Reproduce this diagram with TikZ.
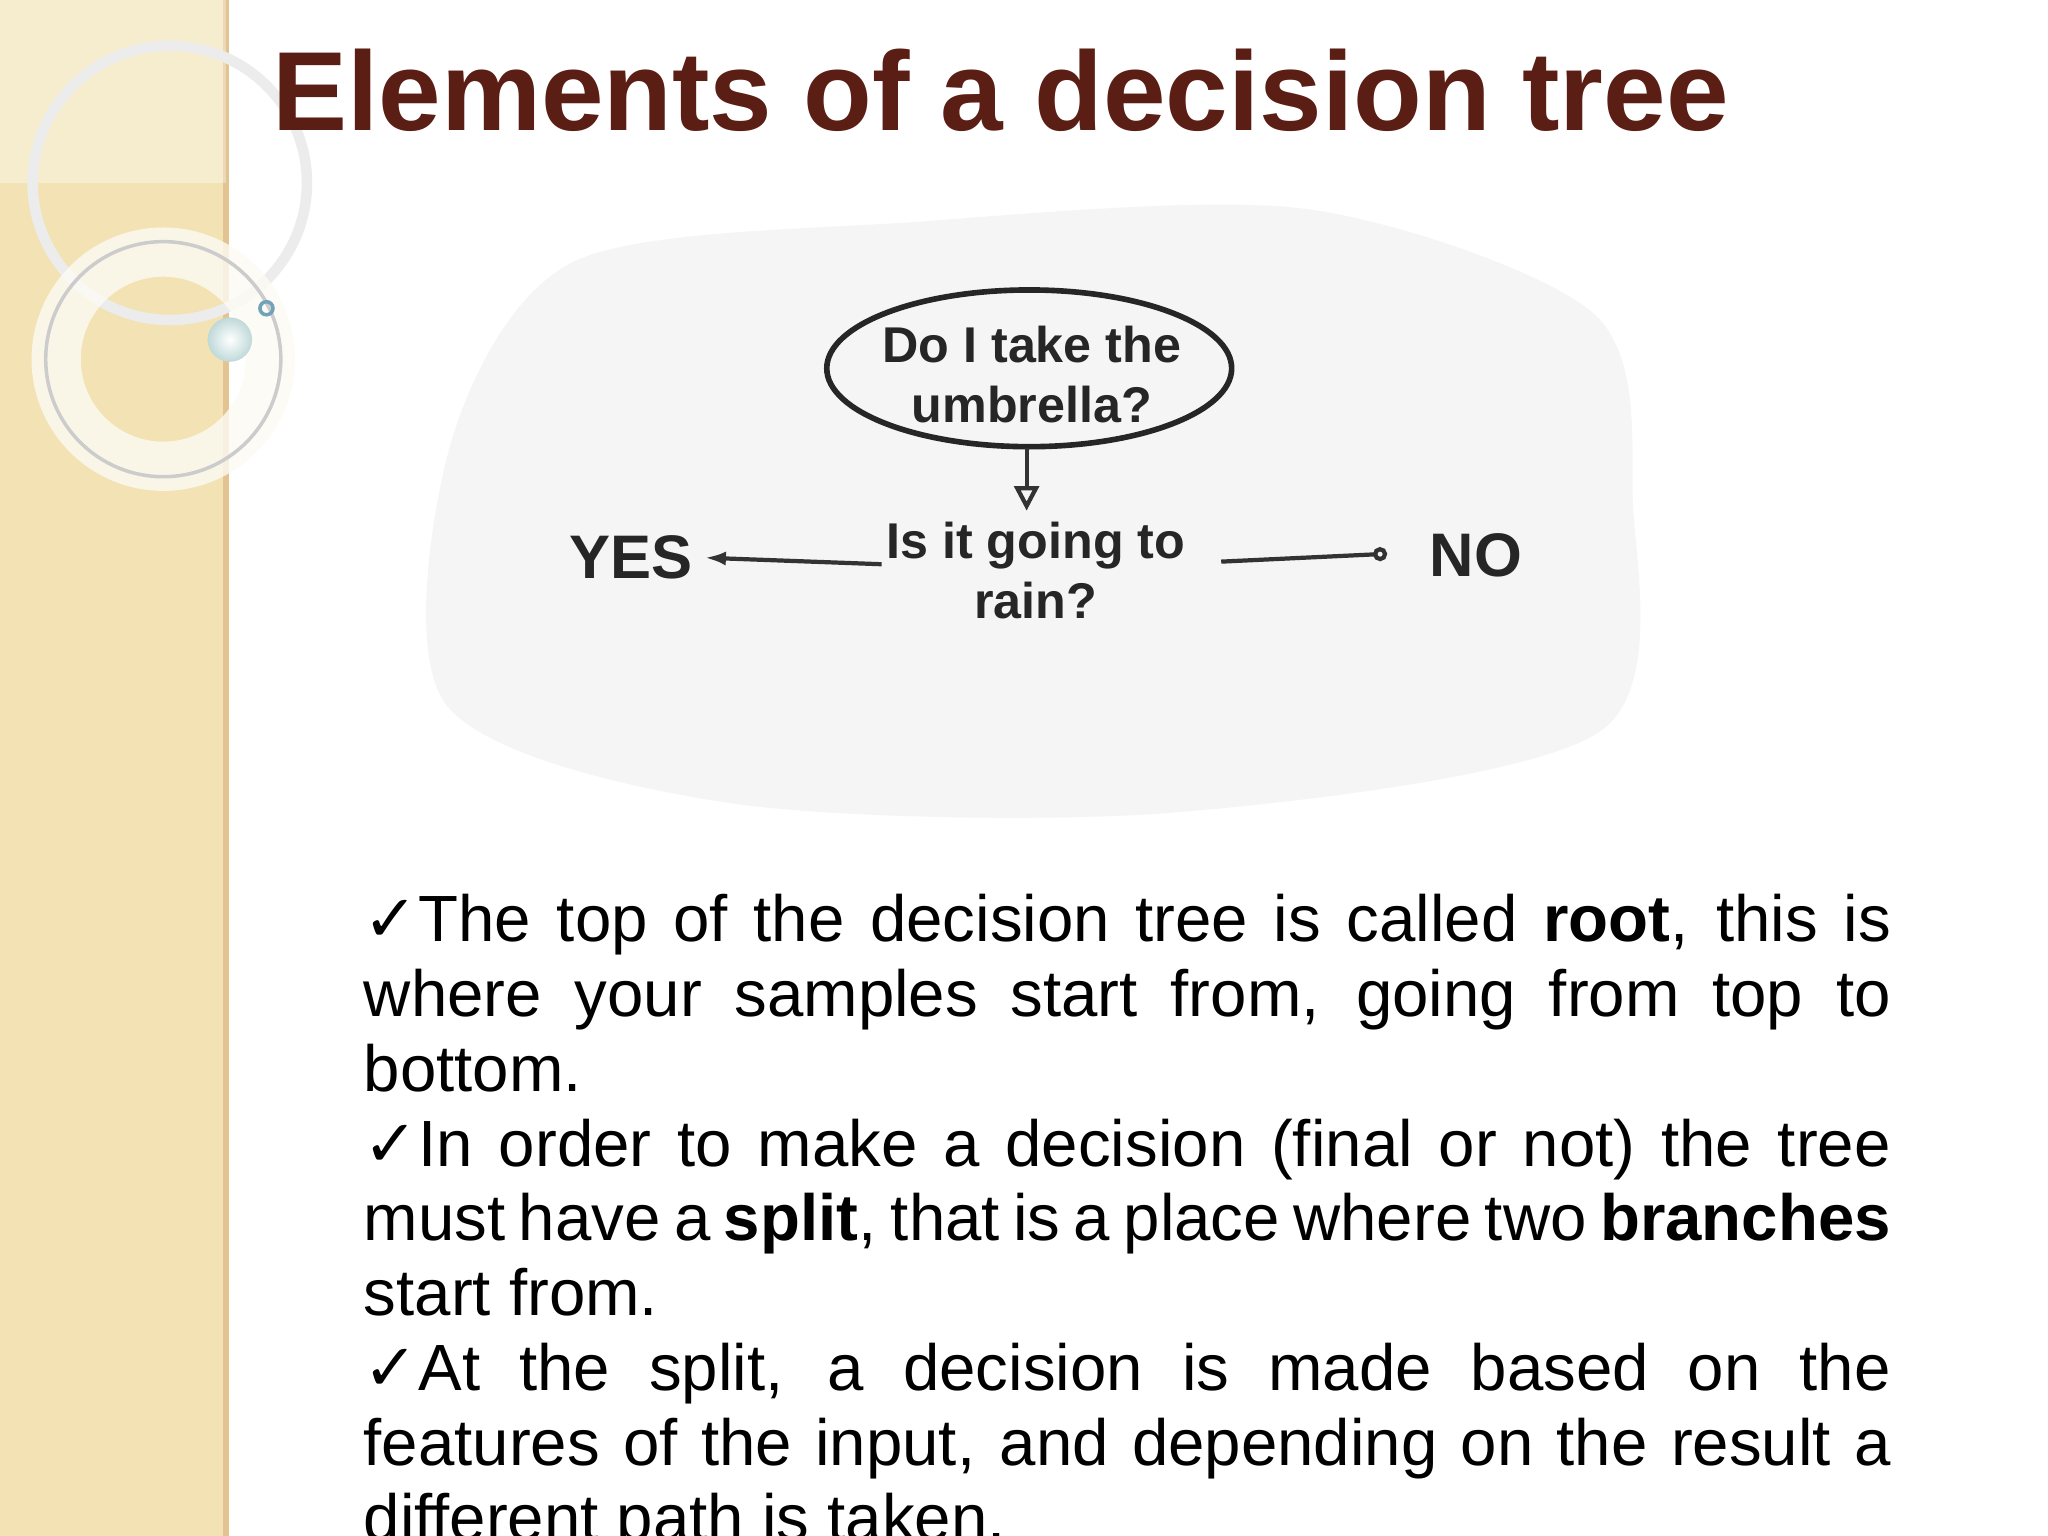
\documentclass[tikz,border=0pt]{standalone}
\usepackage{fontspec}
\setmainfont{Liberation Sans}
\newfontfamily\djv{DejaVu Sans}
\usetikzlibrary{arrows.meta}
\definecolor{beige}{HTML}{F2E2B4}
\definecolor{titlec}{HTML}{5A1E14}
\begin{document}
\begin{tikzpicture}[x=0.013061cm,y=-0.013061cm,
  lbl/.style={font=\bfseries\fontsize{14.3}{17}\selectfont,align=center,text=black!85},
  big/.style={font=\bfseries\fontsize{17.5}{20}\selectfont,text=black!85},
  conn/.style={line width=1.2pt,black!80}]
\useasboundingbox (0,0) rectangle (1568,1176);
\clip (0,0) rectangle (1568,1176);
\fill[white] (0,0) rectangle (1568,1176);
\fill[beige] (0,0) rectangle (173,1176);
\draw[beige!70!brown,line width=1.5pt] (173,0) -- (173,1176);
\fill[white,opacity=0.35] (0,0) rectangle (173,140);
\draw[white!85!gray,line width=3pt] (130,140) circle (105);
\draw[white!85!beige,line width=14pt,opacity=0.8] (125,275) circle (82);
\draw[gray!40,line width=1pt] (125,275) circle (90);
\shade[inner color=white,outer color=cyan!25!gray!40] (176,260) circle (17);
\draw[cyan!40!gray,line width=1pt] (204,236) circle (5);
\node[anchor=base west,font=\bfseries\fontsize{32}{34}\selectfont,text=titlec] (title) at (199,100) {Elements of a decision tree};
\fill[black!4] plot[smooth cycle] coordinates {(345,340) (440,200) (700,170) (1000,160) (1220,240) (1250,380) (1225,560) (900,622) (560,615) (342,540)};
\draw[line width=1.6pt,black!85] (788,282) ellipse (155 and 60);
\node[lbl] (root) at (790,287) {Do I take the\\umbrella?};
\node[lbl] (split) at (793,437) {Is it going to\\rain?};
\node[big] (yes) at (483,427) {YES};
\node[big] (no) at (1130,425) {NO};
\coordinate (rb) at (786,343);
\coordinate (rt) at (786,391);
\coordinate (ys) at (675,432);
\coordinate (ns) at (935,430);
\coordinate (ne) at (1062,424);
\draw[conn,-{Triangle[open,length=7pt,width=7pt]}] (rb) -- (rt);
\draw[conn,-{Latex[length=6pt,width=4pt]}] (ys) -- (yes.east);
\draw[conn,-{Circle[open,length=4pt]}] (ns) -- (ne);
\node[anchor=north west,inner sep=0pt,text width=15.27cm,align=justify,font=\fontsize{18.6}{21.3}\selectfont] (body) at (278,684) {%
\setlength{\parindent}{0pt}\setlength{\parfillskip}{0pt plus 1fil}%
\hyphenpenalty=10000 \exhyphenpenalty=10000 \tolerance=9999 \emergencystretch=3em
{\djv ✓}The top of the decision tree is called \textbf{root}, this is where your samples start from, going from top to bottom.\par
{\djv ✓}In order to make a decision (final or not) the tree must have a \textbf{split}, that is a place where two \textbf{branches} start from.\par
{\djv ✓}At the split, a decision is made based on the features of the input, and depending on the result a different path is taken.\par};
\end{tikzpicture}
\end{document}
